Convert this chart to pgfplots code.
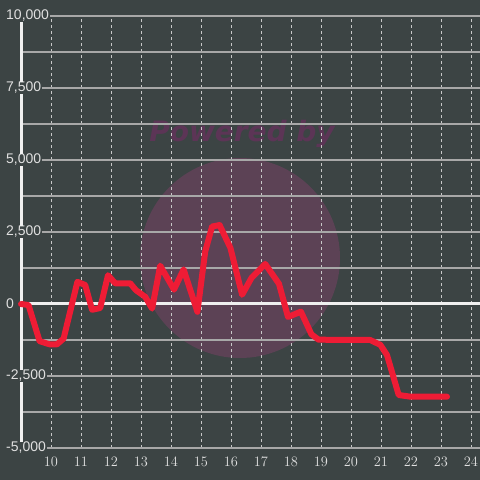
\documentclass[border=0pt]{standalone}
\usepackage{fontspec}
\setmainfont{Liberation Sans}
\newfontfamily\dvsans{DejaVu Sans}
\usepackage{pgfplots}
\pgfplotsset{compat=1.18}
\definecolor{bg}{HTML}{3C4444}
\definecolor{wmcircle}{HTML}{5C4255}
\definecolor{wmtext}{HTML}{5C3556}
\definecolor{gridc}{HTML}{A8A8A8}
\definecolor{vgridc}{HTML}{C8C8C8}
\definecolor{lab}{HTML}{E0E0E0}
\definecolor{axc}{HTML}{F0F0F0}
\definecolor{linec}{HTML}{EE1C35}
\begin{document}
\begin{tikzpicture}[x=1pt,y=1pt]
\fill[bg] (0,0) rectangle (480,480);
\fill[wmcircle] (240,222) circle (100);
\node[text=wmtext, font=\dvsans\bfseries\itshape\fontsize{28}{30}\selectfont] at (242,346) {Powered by};
\begin{axis}[
  at={(21pt,32pt)}, anchor=south west,
  width=459pt, height=432pt, scale only axis,
  clip=false,
  xmin=9, xmax=24.3, ymin=-5000, ymax=10000,
  axis line style={draw=none},
  major tick length=0pt, minor tick length=0pt,
  scaled y ticks=false, scaled x ticks=false,
  xtick={10,...,24},
  ytick={-5000,-2500,0,2500,5000,7500,10000},
  yticklabels={{-5,000},{-2,500},{0},{2,500},{5,000},{7,500},{10,000}},
  minor ytick={-3750,-1250,1250,3750,6250,8750},
  xmajorgrids, ymajorgrids, yminorgrids,
  y grid style={draw=gridc, line width=1.3pt, solid},
  x grid style={draw=vgridc, line width=1pt, dash pattern=on 3pt off 3pt},
  xticklabel style={text=lab, font=\fontsize{14}{14}\selectfont, anchor=base, yshift=-19pt},
  yticklabel style={text=lab, font=\fontsize{14}{14}\selectfont, anchor=west, xshift=-16pt, fill=bg, inner sep=1pt},
]
\addplot[axc, line width=3pt] coordinates {(9,0) (24.3,0)};
\draw[axc, line width=3pt] (axis cs:9,-4792) -- (axis cs:9,-2708);
\draw[axc, line width=3pt] (axis cs:9,-2292) -- (axis cs:9,2292);
\draw[axc, line width=3pt] (axis cs:9,2708) -- (axis cs:9,4792);
\draw[axc, line width=3pt] (axis cs:9,5208) -- (axis cs:9,7292);
\draw[axc, line width=3pt] (axis cs:9,7708) -- (axis cs:9,9792);
\addplot[linec, line width=6pt, line join=round, line cap=round] coordinates {
(9.0,0) (9.25,-35) (9.62,-1290) (9.95,-1400) (10.2,-1400) (10.42,-1200)
(10.88,770) (11.14,660) (11.37,-200) (11.64,-140) (11.9,1000) (12.14,720)
(12.64,720) (12.83,480) (13.14,250) (13.37,-160) (13.64,1330) (14.1,500)
(14.42,1200) (14.88,-270) (15.14,1820) (15.37,2690) (15.62,2740) (15.98,1950)
(16.37,320) (16.68,900) (17.14,1390) (17.6,700) (17.9,-450) (18.33,-266)
(18.68,-1050) (18.92,-1240) (20.64,-1250) (20.98,-1420) (21.2,-1771)
(21.59,-3160) (21.98,-3218) (23.2,-3218)
};
\end{axis}
\pgfresetboundingbox
\useasboundingbox (0,0) rectangle (480,480);
\end{tikzpicture}
\end{document}
